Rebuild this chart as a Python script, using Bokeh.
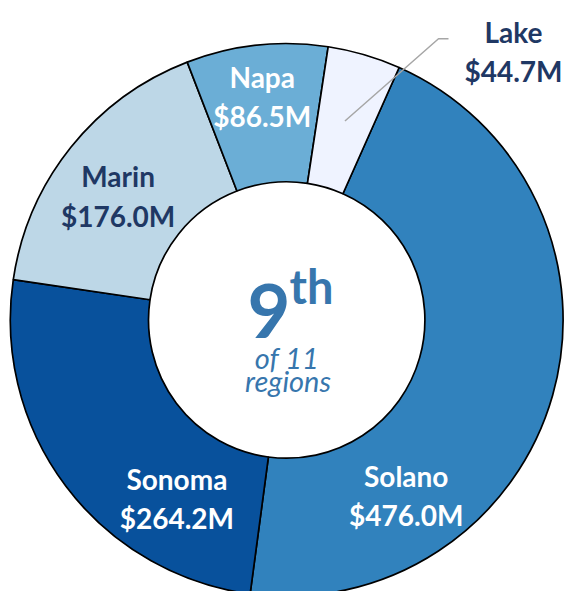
import math
from bokeh.plotting import figure
from bokeh.models import Range1d, ColumnDataSource
from bokeh.core.properties import value
from bokeh.embed import file_html
from bokeh.resources import INLINE

# ---- data (clockwise order) ----
regions = ["Solano", "Sonoma", "Marin", "Napa", "Lake"]
amounts = [476.0, 264.2, 176.0, 86.5, 44.7]          # $M
value_labels = ["$476.0M", "$264.2M", "$176.0M", "$86.5M", "$44.7M"]
rank_number = "9"
rank_suffix = "th"
rank_sub = ["of 11", "regions"]

# ---- styles / layout ----
colors = ["#3182bd", "#08519c", "#bdd7e7", "#6baed6", "#eff3ff"]
text_colors = ["white", "white", "#1f3864", "white", "#1f3864"]
label_x = [405.7, 176.4, 117.6, 261.7, 513]
label_name_y = [115.7, 112.8, 415.6, 514.6, 559.6]
label_val_y = [76.5, 73.6, 375.4, 475.4, 520.4]
center_color = "#3776ad"

W, H = 564, 591
cx, cy = 286.2, 271.5
R_out, R_in = 276.4, 138.2
start_deg = 24.0  # clockwise from 12 o'clock

total = sum(amounts)
starts, ends, mids = [], [], []
acc = start_deg
for a in amounts:
    span = a / total * 360.0
    s_cw, e_cw = acc, acc + span
    starts.append(math.radians(90 - s_cw))
    ends.append(math.radians(90 - e_cw))
    mids.append((s_cw + e_cw) / 2)
    acc = e_cw

p = figure(width=W, height=H, x_range=Range1d(0, W), y_range=Range1d(0, H),
           x_axis_type=None, y_axis_type=None, toolbar_location=None,
           output_backend="svg", min_border=0, outline_line_color=None,
           background_fill_color="white", border_fill_color="white")
p.grid.visible = False

src = ColumnDataSource(dict(start=starts, end=ends, color=colors))
p.annular_wedge(x=cx, y=cy, inner_radius=R_in, outer_radius=R_out,
                start_angle="start", end_angle="end", direction="clock",
                fill_color="color", line_color="black", line_width=1.7,
                source=src)

font = value("Lato")

# Lake leader line (starts at the wedge mid-angle)
lake_i = regions.index("Lake")
ang = math.radians(90 - mids[lake_i])
r0 = 0.75 * R_out
x0, y0 = cx + r0 * math.cos(ang), cy + r0 * math.sin(ang)
p.line(x=[x0, 438, 448], y=[y0, 552.8, 552.8], line_color="#a6a6a6", line_width=1.5)

lab = ColumnDataSource(dict(x=label_x, yn=label_name_y, yv=label_val_y,
                            name=regions, val=value_labels, tc=text_colors))
for col in ("yn", "yv"):
    p.text(x="x", y=col, text="name" if col == "yn" else "val", source=lab,
           text_color="tc", text_font=font, text_font_style="bold",
           text_font_size="28px", text_align="center", text_baseline="alphabetic")

# center text
p.text(x=[290], y=[280.3], text=[rank_number], text_color=center_color,
       text_font=font, text_font_style="bold", text_font_size="74px",
       text_align="right", text_baseline="alphabetic")
p.text(x=[289], y=[305.1], text=[rank_suffix], text_color=center_color,
       text_font=font, text_font_style="bold", text_font_size="47px",
       text_align="left", text_baseline="alphabetic")
p.text(x=[286.4, 287.6], y=[234.3, 210.8], text=rank_sub, text_color=center_color,
       text_font=font, text_font_style="italic", text_font_size="29px",
       text_align="center", text_baseline="alphabetic")

open("out.html", "w").write(file_html(p, INLINE))
